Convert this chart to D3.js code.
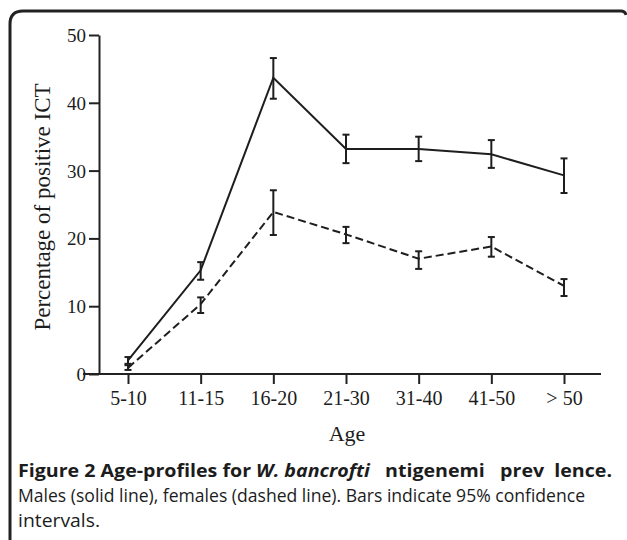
<!DOCTYPE html>
<html>
<head>
    <meta charset="UTF-8">
    <title>Age-profiles for W. bancrofti</title>
</head>
<style>
    body {
        margin: 0;
        padding: 0;
        background: #fff;
    }
    svg {
        position: absolute;
        left: 0;
        top: 0;
    }
    .serif {
        font-family: "Liberation Serif", "DejaVu Serif", serif;
        fill: #1c1c1c;
    }
    .cap {
        font-family: "Open Sans", "Noto Sans", sans-serif;
        fill: #1c1c1c;
        white-space: pre;
    }
</style>
<body>
<svg width="627" height="540"></svg>
<script src="https://d3js.org/d3.v7.min.js"></script>
<script>
    // age groups
    var ages = ["5-10", "11-15", "16-20", "21-30", "31-40", "41-50", "> 50"];
    var yTicks = [0, 10, 20, 30, 40, 50];

    // males (solid line)
    var males = [2.0, 15.3, 43.7, 33.2, 33.2, 32.4, 29.3];
    var malesLow = [1.5, 13.9, 40.6, 31.1, 31.4, 30.4, 26.7];
    var malesHigh = [2.5, 16.5, 46.6, 35.3, 35.0, 34.5, 31.8];

    // females (dashed line)
    var females = [0.9, 10.3, 23.9, 20.6, 17.0, 18.8, 13.0];
    var femalesLow = [0.6, 9.0, 20.5, 19.3, 15.5, 17.3, 11.5];
    var femalesHigh = [1.3, 11.3, 27.1, 21.7, 18.1, 20.2, 14.0];

    var svg = d3.select("svg");

    // frame with rounded corner
    svg.append("path")
        .attr("d", "M10,540 V24 Q10,11 23,11 H621 Q625,11 626,15")
        .attr("fill", "none")
        .attr("stroke", "#222")
        .attr("stroke-width", 3);

    var x = d3.scalePoint()
        .domain(ages)
        .range([128, 564]);

    var y = d3.scaleLinear()
        .domain([0, 50])
        .range([374, 35]);

    // y axis
    var yAxis = svg.append("g")
        .attr("transform", "translate(99,0)")
        .call(d3.axisLeft(y).tickValues(yTicks).tickSize(10).tickSizeOuter(0).tickPadding(3));
    yAxis.select(".domain").attr("stroke", "#222").attr("stroke-width", 2);
    yAxis.selectAll(".tick line").attr("stroke", "#222").attr("stroke-width", 2);
    yAxis.selectAll(".tick text")
        .attr("class", "serif")
        .attr("font-size", 19)
        .attr("dy", "0.34em");

    // x axis, line runs left past the y axis like the original
    var xAxis = svg.append("g")
        .attr("transform", "translate(0,374)")
        .call(d3.axisBottom(x).tickSize(10).tickSizeOuter(0).tickPadding(7));
    xAxis.select(".domain").remove();
    xAxis.append("line")
        .attr("x1", 83).attr("x2", 601)
        .attr("stroke", "#222")
        .attr("stroke-width", 2);
    xAxis.selectAll(".tick line").attr("stroke", "#222").attr("stroke-width", 2);
    xAxis.selectAll(".tick text")
        .attr("class", "serif")
        .attr("font-size", 20);

    // axis titles
    svg.append("text")
        .attr("class", "serif")
        .attr("x", 347)
        .attr("y", 441)
        .attr("text-anchor", "middle")
        .attr("font-size", 22)
        .text("Age");

    svg.append("text")
        .attr("class", "serif")
        .attr("transform", "translate(50,207) rotate(-90)")
        .attr("text-anchor", "middle")
        .attr("font-size", 23)
        .text("Percentage of positive ICT");

    function drawSeries(vals, low, high, dash) {
        var line = d3.line()
            .x(function (d, i) { return x(ages[i]); })
            .y(function (d) { return y(d); });

        svg.append("path")
            .datum(vals)
            .attr("d", line)
            .attr("fill", "none")
            .attr("stroke", "#1e1e1e")
            .attr("stroke-width", 2)
            .attr("stroke-dasharray", dash);

        var bars = svg.append("g")
            .attr("stroke", "#1e1e1e")
            .attr("stroke-width", 2)
            .selectAll("g")
            .data(ages)
            .enter().append("g");

        bars.append("line")
            .attr("x1", function (d) { return x(d); })
            .attr("x2", function (d) { return x(d); })
            .attr("y1", function (d, i) { return y(low[i]); })
            .attr("y2", function (d, i) { return y(high[i]); });
        bars.append("line")
            .attr("x1", function (d) { return x(d) - 3.5; })
            .attr("x2", function (d) { return x(d) + 3.5; })
            .attr("y1", function (d, i) { return y(low[i]); })
            .attr("y2", function (d, i) { return y(low[i]); });
        bars.append("line")
            .attr("x1", function (d) { return x(d) - 3.5; })
            .attr("x2", function (d) { return x(d) + 3.5; })
            .attr("y1", function (d, i) { return y(high[i]); })
            .attr("y2", function (d, i) { return y(high[i]); });
    }

    drawSeries(males, malesLow, malesHigh, null);
    drawSeries(females, femalesLow, femalesHigh, "8,4");

    // caption
    var cap1 = svg.append("text")
        .attr("class", "cap")
        .attr("x", 18)
        .attr("y", 477)
        .attr("font-size", 17.5)
        .attr("textLength", 594)
        .attr("lengthAdjust", "spacingAndGlyphs");
    cap1.append("tspan").attr("font-weight", "bold").text("Figure 2 Age-profiles for ");
    cap1.append("tspan").attr("font-weight", "bold").attr("font-style", "italic").text("W. bancrofti");
    cap1.append("tspan").attr("font-weight", "bold").text("   ntigenemi   prev  lence.");

    svg.append("text")
        .attr("class", "cap")
        .attr("x", 18)
        .attr("y", 502)
        .attr("font-size", 17.5)
        .attr("textLength", 567)
        .attr("lengthAdjust", "spacingAndGlyphs")
        .text("Males (solid line), females (dashed line). Bars indicate 95% confidence");

    svg.append("text")
        .attr("class", "cap")
        .attr("x", 18)
        .attr("y", 527)
        .attr("font-size", 17.5)
        .attr("textLength", 82)
        .attr("lengthAdjust", "spacingAndGlyphs")
        .text("intervals.");
</script>
</body>
</html>
